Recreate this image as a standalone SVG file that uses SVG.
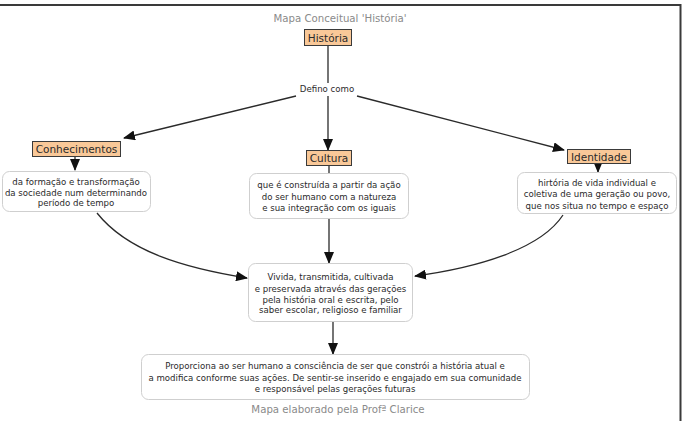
<svg xmlns="http://www.w3.org/2000/svg" width="683" height="421" viewBox="0 0 683 421">
<style>
text{font-family:"DejaVu Sans",Verdana,sans-serif;fill:#2a2a2a;text-anchor:middle}
.lbl{font-size:10.5px}
.txt{font-size:8.6px}
.gray{fill:#8a8a8a;font-size:10.2px}
.concept{fill:#f9c898;stroke:#3a3a3a;stroke-width:1}
.box{fill:#fff;stroke:#cfcfcf;stroke-width:1}
.con{fill:none;stroke:#2a2a2a;stroke-width:1.3}
</style>
<defs>
<marker id="arr" markerUnits="userSpaceOnUse" markerWidth="12" markerHeight="10" refX="11" refY="5" orient="auto">
<path d="M0,0 L12,5 L0,10 Z" fill="#111"/>
</marker>
</defs>
<rect width="683" height="421" fill="#fff"/>
<line x1="0" y1="5" x2="681" y2="5" stroke="#3a3a3a" stroke-width="2"/>
<line x1="680.5" y1="4" x2="680.5" y2="421" stroke="#3a3a3a" stroke-width="2"/>
<text class="gray" x="340" y="22">Mapa Conceitual 'História'</text>
<text class="gray" x="338" y="413">Mapa elaborado pela Profª Clarice</text>
<g id="connectors">
<line class="con" x1="328" y1="46" x2="328" y2="83"/>
<line class="con" x1="328" y1="96" x2="328" y2="150" marker-end="url(#arr)"/>
<line class="con" x1="296" y1="96" x2="124" y2="138" marker-end="url(#arr)"/>
<line class="con" x1="357" y1="96" x2="564" y2="150" marker-end="url(#arr)"/>
<line class="con" x1="75" y1="156" x2="75" y2="170" marker-end="url(#arr)"/>
<line class="con" x1="329" y1="165" x2="329" y2="173"/>
<line class="con" x1="598" y1="163" x2="598" y2="172" marker-end="url(#arr)"/>
<path class="con" d="M97,213 C128,252 185,268 247,278" marker-end="url(#arr)"/>
<line class="con" x1="329" y1="219" x2="329" y2="263" marker-end="url(#arr)"/>
<path class="con" d="M563,215 C540,250 475,268 415,276" marker-end="url(#arr)"/>
<line class="con" x1="333" y1="322" x2="333" y2="354" marker-end="url(#arr)"/>
</g>
<g id="historia">
<rect class="concept" x="304.5" y="29.5" width="47" height="16"/>
<text class="lbl" x="328" y="41.5">História</text>
</g>
<g id="defino">
<text class="txt" x="327" y="92">Defino como</text>
</g>
<g id="conhecimentos">
<rect class="concept" x="32.5" y="141.5" width="88" height="15"/>
<text class="lbl" x="76.5" y="153">Conhecimentos</text>
</g>
<g id="cultura">
<rect class="concept" x="306.5" y="150.5" width="45" height="15"/>
<text class="lbl" x="329" y="162">Cultura</text>
</g>
<g id="identidade">
<rect class="concept" x="567.5" y="149.5" width="63" height="14"/>
<text class="lbl" x="599" y="160.5">Identidade</text>
</g>
<g id="box1">
<rect class="box" x="2.5" y="171.5" width="148" height="40" rx="7"/>
<text class="txt" x="76" y="185">da formação e transformação</text>
<text class="txt" x="76" y="195.5">da sociedade num determinando</text>
<text class="txt" x="76" y="206">período de tempo</text>
</g>
<g id="box2">
<rect class="box" x="249.5" y="173.5" width="159" height="45" rx="7"/>
<text class="txt" x="329" y="187.5">que é construída a partir da ação</text>
<text class="txt" x="329" y="199.5">do ser humano com a natureza</text>
<text class="txt" x="329" y="211">e sua integração com os iguais</text>
</g>
<g id="box3">
<rect class="box" x="517.5" y="172.5" width="159" height="41" rx="7"/>
<text class="txt" x="597" y="186">hirtória de vida individual e</text>
<text class="txt" x="597" y="196.5">coletiva de uma geração ou povo,</text>
<text class="txt" x="597" y="209">que nos situa no tempo e espaço</text>
</g>
<g id="box4">
<rect class="box" x="248.5" y="263.5" width="164" height="58" rx="7"/>
<text class="txt" x="330.5" y="279.5">Vivida, transmitida, cultivada</text>
<text class="txt" x="330.5" y="291.5">e preservada através das gerações</text>
<text class="txt" x="330.5" y="302.5">pela história oral e escrita, pelo</text>
<text class="txt" x="330.5" y="313">saber escolar, religioso e familiar</text>
</g>
<g id="box5">
<rect class="box" x="141.5" y="354.5" width="388" height="45" rx="7"/>
<text class="txt" x="335" y="369">Proporciona ao ser humano a consciência de ser que constrói a história atual e</text>
<text class="txt" x="335" y="380.5">a modifica conforme suas ações. De sentir-se inserido e engajado em sua comunidade</text>
<text class="txt" x="335" y="391.5">e responsável pelas gerações futuras</text>
</g>
</svg>
